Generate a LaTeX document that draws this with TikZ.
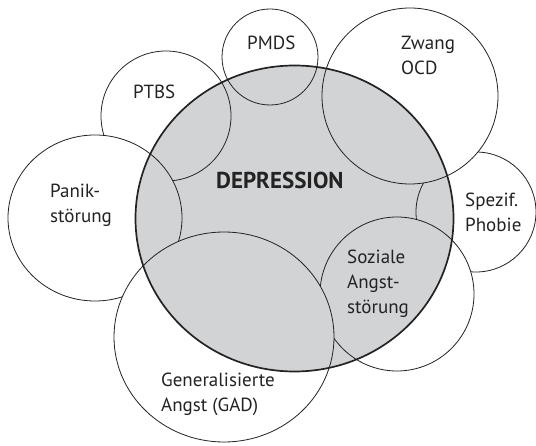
\documentclass[tikz,border=0pt]{standalone}
\usepackage{fontspec}
\setmainfont{PT Sans}
\definecolor{depfill}{RGB}{210,211,213}
\definecolor{inkc}{RGB}{35,35,35}
\newcommand\drawrings[1]{%
  \path[ring,fill=#1] (270,57) circle[radius=48];
  \path[ring,fill=#1] (166,116) circle[radius=65];
  \path[ring,fill=#1] (95,218) ellipse[x radius=87, y radius=83];
  \path[ring,fill=#1] (476,212) circle[radius=60];
  \path[ring,fill=#1] (410,96) circle[radius=88];
  \path[ring,fill=#1] (397,294) circle[radius=77];
  \path[ring,fill=#1] (224,337) ellipse[x radius=110, y radius=105];
}
\begin{document}
\begin{tikzpicture}[x=1pt,y=-1pt,
  ring/.style={draw=inkc, line width=0.8pt},
  lbl/.style={anchor=base west, inner sep=0pt, align=left, text=inkc,
              font=\fontsize{19}{25}\selectfont}]
\useasboundingbox (0,0) rectangle (536,446);
\drawrings{white}
\fill[depfill] (294.5,218.5) ellipse[x radius=159, y radius=153];
\begin{scope}
  \clip (294.5,218.5) ellipse[x radius=159, y radius=153];
  \drawrings{depfill}
\end{scope}
\draw[draw=inkc, line width=1.7pt] (294.5,218.5) ellipse[x radius=159, y radius=153];
\node[lbl] (pmds) at (247,50) {PMDS};
\node[lbl] (zwang) at (401,75) {Zwang\\OCD};
\node[lbl] (ptbs) at (133,99) {PTBS};
\node[lbl] (panik) at (50,223) {Panik-\\störung};
\node[lbl] (phobie) at (465,232) {Spezif.\\Phobie};
\node[lbl] (sozial) at (347,314) {Soziale\\Angst-\\störung};
\node[lbl] (gad) at (161,412) {Generalisierte\\Angst (GAD)};
\node[lbl, font=\bfseries\fontsize{23}{25}\selectfont] (dep) at (216,189) {DEPRESSION};
\end{tikzpicture}
\end{document}
